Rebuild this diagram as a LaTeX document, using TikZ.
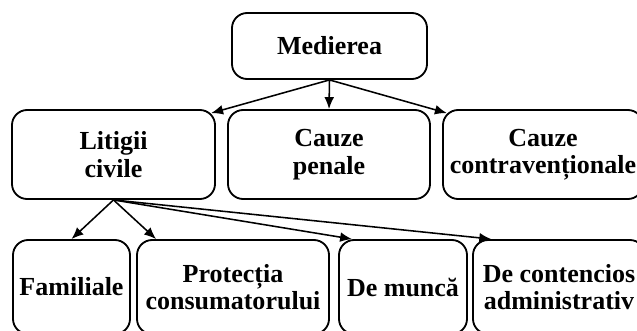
\documentclass[tikz,border=0pt]{standalone}
\usepackage{fontspec}
\setmainfont{Liberation Serif}
\usetikzlibrary{arrows.meta}
\begin{document}
\begin{tikzpicture}[x=0.025cm,y=-0.025cm,
  box/.style={draw, line width=1.3pt, rounded corners=0.38cm, align=center, inner sep=1pt,
    font=\fontsize{18.5}{19.5}\selectfont\bfseries},
  arr/.style={line width=1.1pt, -{Latex[length=8.5pt,width=7pt]}}]
\useasboundingbox (0,0) rectangle (637,330);
\node [box, minimum width=4.875cm, minimum height=1.65cm] (med) at (329.5,46) {Medierea};
\node [box, minimum width=5.075cm, minimum height=2.225cm] (lit) at (113.5,154.5) {Litigii\\civile};
\node [box, minimum width=5.05cm, minimum height=2.225cm] (pen) at (329,154.5) {Cauze\\penale};
\node [box, minimum width=5cm, minimum height=2.225cm] (con) at (543,154.5) {Cauze\\contravenționale};
\node [box, minimum width=2.925cm, minimum height=2.35cm] (fam) at (71.5,287) {Familiale};
\node [box, minimum width=4.8cm, minimum height=2.35cm] (prot) at (233,287) {Protecția\\consumatorului};
\node [box, minimum width=3.2cm, minimum height=2.35cm] (mun) at (403,287) {De muncă};
\node [box, minimum width=4.3cm, minimum height=2.35cm] (cont) at (559,287) {De contencios\\administrativ};
\draw [arr] (med.south) -- ([xshift=-0.12cm,yshift=-0.1cm]lit.north east);
\draw [arr] (med.south) -- (pen.north);
\draw [arr] (med.south) -- ([xshift=0.12cm,yshift=-0.1cm]con.north west);
\draw [arr] (lit.south) -- (fam.north);
\draw [arr] (lit.south) -- ([xshift=0.5cm]prot.north west);
\draw [arr] (lit.south) -- ([xshift=0.35cm]mun.north west);
\draw [arr] (lit.south) -- ([xshift=0.48cm]cont.north west);
\end{tikzpicture}
\end{document}
